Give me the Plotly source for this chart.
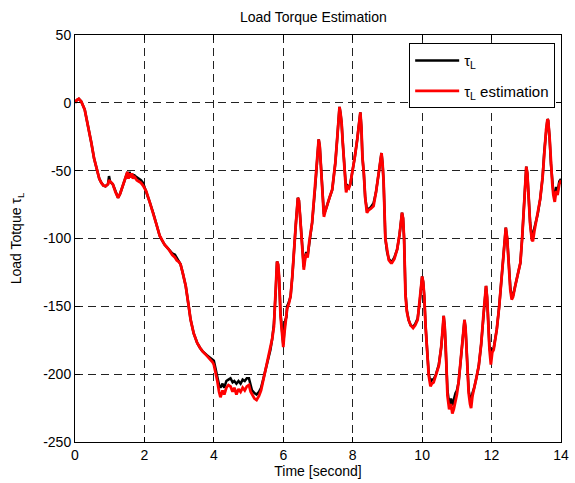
import plotly.graph_objects as go

time_s = [
    0.00, 0.05, 0.11, 0.18, 0.28, 0.37, 0.47, 0.55, 0.62, 0.70, 0.76, 0.82, 0.88, 0.95, 0.98, 1.01,
    1.09, 1.17, 1.24, 1.30, 1.36, 1.43, 1.48, 1.51, 1.54, 1.57, 1.61, 1.64, 1.67, 1.70, 1.73, 1.78,
    1.84, 1.90, 1.96, 2.05, 2.15, 2.25, 2.35, 2.44, 2.52, 2.58, 2.70, 2.80, 2.88, 2.93, 3.00, 3.04,
    3.10, 3.19, 3.27, 3.33, 3.42, 3.52, 3.60, 3.67, 3.80, 3.90, 3.96, 4.00, 4.05, 4.10, 4.15, 4.19,
    4.25, 4.30, 4.36, 4.42, 4.48, 4.54, 4.59, 4.65, 4.71, 4.77, 4.83, 4.89, 4.95, 5.01, 5.06, 5.10,
    5.17, 5.23, 5.30, 5.36, 5.42, 5.49, 5.56, 5.63, 5.68, 5.73, 5.78, 5.82, 5.85, 5.88, 5.92, 5.96,
    6.00, 6.03, 6.06, 6.09, 6.11, 6.16, 6.21, 6.26, 6.30, 6.36, 6.42, 6.45, 6.48, 6.54, 6.59, 6.62,
    6.66, 6.70, 6.75, 6.83, 6.92, 6.98, 7.02, 7.05, 7.09, 7.13, 7.17, 7.22, 7.26, 7.33, 7.41, 7.46,
    7.50, 7.56, 7.60, 7.62, 7.65, 7.68, 7.71, 7.74, 7.78, 7.81, 7.85, 7.89, 7.93, 7.99, 8.06, 8.13,
    8.18, 8.22, 8.25, 8.28, 8.32, 8.36, 8.41, 8.46, 8.52, 8.60, 8.67, 8.75, 8.80, 8.83, 8.86, 8.89,
    8.94, 8.99, 9.04, 9.10, 9.13, 9.20, 9.28, 9.35, 9.42, 9.45, 9.48, 9.52, 9.56, 9.61, 9.67, 9.74,
    9.80, 9.87, 9.93, 9.97, 10.00, 10.03, 10.06, 10.10, 10.14, 10.19, 10.24, 10.28, 10.33, 10.40, 10.48, 10.55,
    10.60, 10.62, 10.65, 10.68, 10.73, 10.78, 10.83, 10.87, 10.91, 10.96, 11.00, 11.05, 11.10, 11.15, 11.20, 11.22,
    11.25, 11.29, 11.34, 11.38, 11.41, 11.45, 11.50, 11.56, 11.63, 11.70, 11.77, 11.82, 11.84, 11.87, 11.90, 11.94,
    11.98, 12.02, 12.06, 12.10, 12.15, 12.22, 12.30, 12.36, 12.41, 12.45, 12.50, 12.54, 12.58, 12.62, 12.68, 12.75,
    12.83, 12.88, 12.92, 12.97, 13.00, 13.03, 13.06, 13.11, 13.16, 13.19, 13.23, 13.26, 13.33, 13.40, 13.47, 13.52,
    13.57, 13.61, 13.63, 13.67, 13.71, 13.75, 13.78, 13.82, 13.86, 13.90, 13.95, 14.00,
]

tau_L = [
    0, 2, 3, 1, -5, -16, -29.5, -41, -49, -56, -59, -61, -61.5, -60, -54, -58,
    -60, -66, -70, -67, -62, -56.6, -52, -51, -55, -51, -54, -52, -55, -53, -54, -55,
    -56, -57, -59, -65, -73, -81, -90, -98, -102, -104.5, -108, -111, -112, -114, -117, -119,
    -125, -135, -149, -159.8, -170, -177, -180.5, -183, -186, -188, -189, -190, -196, -203, -208, -210,
    -207, -210, -205, -204, -203, -206, -205, -207, -205, -207, -204, -205, -203, -203, -208, -212,
    -214, -215, -213, -210, -204, -197, -189, -182, -174, -163, -140, -117, -119, -130, -155, -170,
    -178, -168, -160, -158, -150, -147, -142.6, -128, -110.6, -90, -70, -72, -82, -105, -121, -115,
    -110, -113, -102, -88.5, -62, -38, -27, -32, -48, -68, -82, -79, -75, -70, -64, -55,
    -44, -24, -8, -3, -8, -15, -28, -40, -55, -64, -61, -62, -60, -52, -40, -27,
    -15, -7, -18, -40, -52, -70, -79, -78, -77, -74, -66, -51.6, -42, -37, -45, -58,
    -100, -110, -115, -117, -117, -114, -108, -97, -81, -85, -100, -140, -153, -160, -164, -165,
    -163, -159, -147, -135, -128, -132, -142, -165, -182, -200, -206, -204, -204, -200, -193, -180,
    -165, -157, -165, -180, -212, -222, -218, -223, -218, -214, -212, -206, -193, -177, -163, -160,
    -166, -187, -212, -218, -220, -214, -210, -203, -194, -178, -155, -140, -135, -143, -160, -180,
    -186, -182, -181, -175, -167, -150, -128, -110, -92, -100, -120, -136, -143, -142, -135, -128,
    -118, -100, -83, -58, -47, -52, -66, -88, -100, -97, -94, -91, -82, -71, -55, -35,
    -20, -12, -13, -25, -45, -60, -66, -70, -62, -66, -58, -56,
]

tau_L_est = [
    0, 2, 3, 1, -5, -16, -29.5, -41, -49, -56, -59, -61, -61.5, -60, -57, -58,
    -60, -66, -70, -67, -62, -56.6, -53, -51, -56, -52, -55, -52, -56, -54, -55, -57,
    -58, -59, -61, -65, -73, -81, -90, -98, -102, -104.5, -108, -112, -114, -116, -117.5, -119,
    -125, -135, -149, -159.8, -170, -177, -180.5, -183, -186.5, -189, -191, -193, -198, -205, -213, -217,
    -212, -215, -210, -208, -209, -213, -210, -215, -211, -213, -210, -212, -209, -208, -213, -215,
    -218, -219, -216, -212, -205, -197, -189, -182, -174, -165, -140, -117, -119, -128, -157, -172,
    -180, -170, -162, -155, -152, -148, -142.6, -128, -110.6, -90, -70, -72, -82, -105, -123, -117,
    -111, -114, -102, -88.5, -62, -38, -27, -32, -48, -68, -84, -79, -75, -70, -64, -55,
    -44, -24, -8, -3, -8, -15, -28, -40, -56, -66, -62, -63, -60, -52, -40, -27,
    -15, -7, -18, -40, -52, -70, -81, -79, -78, -76, -66, -51.6, -42, -37, -45, -58,
    -100, -110, -116, -118, -118, -115, -108, -97, -81, -85, -100, -142, -154, -160, -164, -166,
    -164, -160, -147, -135, -128, -132, -142, -165, -182, -201, -209, -207, -206, -201, -194, -180,
    -165, -157, -165, -180, -216, -226, -222, -229, -226, -220, -215, -206, -193, -177, -163, -160,
    -166, -187, -214, -222, -225, -216, -211, -203, -194, -178, -155, -140, -135, -143, -160, -182,
    -193, -184, -182, -175, -167, -150, -128, -110, -92, -100, -120, -138, -145, -143, -135, -128,
    -118, -100, -84, -58, -47, -52, -66, -89, -101, -102, -95, -91, -82, -71, -55, -35,
    -20, -12, -13, -25, -45, -60, -68, -73, -65, -68, -60, -57,
]

x_ticks = [0, 2, 4, 6, 8, 10, 12, 14]
y_ticks = [50, 0, -50, -100, -150, -200, -250]

font_family = "Liberation Sans, Arial, Helvetica, sans-serif"

fig = go.Figure()
fig.add_trace(go.Scatter(
    x=time_s, y=tau_L, mode="lines", name="τ<sub>L</sub>",
    line=dict(color="black", width=2.5), legendgroup="a",
))
fig.add_trace(go.Scatter(
    x=time_s, y=tau_L_est, mode="lines", name="τ<sub>L</sub> estimation",
    line=dict(color="#ff0000", width=2.8), legendgroup="b",
))

axis_common = dict(
    showline=True, linecolor="black", linewidth=1, mirror="ticks",
    ticks="inside", ticklen=5, tickcolor="black",
    showgrid=True, gridcolor="#222222", griddash="8px,5px", gridwidth=1,
    zeroline=False, automargin=False,
    tickfont=dict(size=14, color="black", family=font_family),
)

fig.update_layout(
    width=575, height=483,
    margin=dict(l=75, r=14, t=35, b=41),
    paper_bgcolor="white", plot_bgcolor="white",
    font=dict(family=font_family, size=14, color="black"),
    title=dict(text="Load Torque Estimation", x=0.545, xanchor="center", y=0.965, yanchor="middle",
               font=dict(size=14, color="black")),
    xaxis=dict(range=[0, 14], tickvals=x_ticks, ticktext=[str(v) for v in x_ticks],
               title=dict(text="Time [second]", standoff=2, font=dict(size=14)), **axis_common),
    yaxis=dict(range=[-250, 50], tickvals=y_ticks, ticktext=[str(v) for v in y_ticks],
               title=dict(text="Load Totque τ<sub>L</sub>", standoff=18, font=dict(size=14)), **axis_common),
    legend=dict(x=0.988, y=0.98, xanchor="right", yanchor="top",
                bgcolor="white", bordercolor="black", borderwidth=1,
                font=dict(size=15, color="black"), tracegroupgap=8, itemwidth=44),
    showlegend=True,
)

fig.write_html(
    "out.html",
    config={"displayModeBar": False},
    post_script="document.body.style.margin='0';document.body.style.padding='0';",
)
